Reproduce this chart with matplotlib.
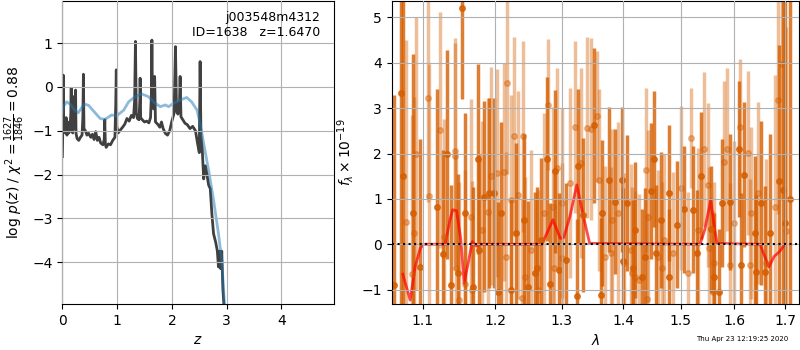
import matplotlib
matplotlib.use('Agg')
import matplotlib.pyplot as plt
from matplotlib import ticker

# p(z) panel
z_grid = [0.0, 0.01, 0.018, 0.026, 0.04, 0.055, 0.07, 0.085, 0.10, 0.12, 0.14, 0.155, 0.162,
          0.17, 0.19, 0.205, 0.212, 0.22, 0.235, 0.242, 0.25, 0.27, 0.30, 0.33, 0.36, 0.375,
          0.385, 0.395, 0.42, 0.45, 0.48, 0.52, 0.55, 0.58, 0.61, 0.64, 0.67, 0.70, 0.74,
          0.765, 0.775, 0.785, 0.80, 0.84, 0.88, 0.92, 0.96, 0.975, 0.985, 0.995, 1.02, 1.06,
          1.10, 1.14, 1.18, 1.22, 1.26, 1.30, 1.32, 1.335, 1.35, 1.37, 1.40, 1.415, 1.42,
          1.43, 1.46, 1.50, 1.54, 1.58, 1.61, 1.625, 1.635, 1.645, 1.655, 1.665, 1.685, 1.70,
          1.74, 1.78, 1.81, 1.84, 1.88, 1.92, 1.96, 2.00, 2.04, 2.065, 2.085, 2.11, 2.14,
          2.15, 2.165, 2.20, 2.24, 2.28, 2.33, 2.38, 2.43, 2.47, 2.50, 2.515, 2.53, 2.555,
          2.58, 2.61, 2.64, 2.67, 2.70, 2.73, 2.76, 2.80, 2.83, 2.85, 2.87, 2.89, 2.91, 2.93,
          2.96, 3.0]
log_pz = [-1.59, -0.9, 0.27, -1.0, -0.85, -1.05, -0.7, -1.1, -0.8, -1.05, -0.95, -0.6, -0.03,
          -1.0, -1.05, -0.6, -0.22, -0.95, -0.6, -0.07, -1.06, -1.18, -1.22, -1.15, -1.1, -0.7,
          0.29, -0.95, -1.0, -1.1, -1.06, -1.15, -1.08, -1.2, -1.02, -1.22, -1.15, -1.28, -1.32,
          -1.2, -0.75, -1.3, -1.38, -1.3, -1.32, -1.22, -1.15, -0.4, 0.39, -0.9, -1.05, -0.98,
          -0.92, -0.85, -0.72, -0.78, -0.65, -0.7, -0.3, 1.04, -0.6, -0.72, -0.75, -0.3, 0.20,
          -0.7, -0.75, -0.8, -0.78, -0.82, -0.7, -0.2, 1.07, -0.3, 0.08, -0.5, 0.24, -0.8,
          -0.85, -0.92, -0.8, -0.95, -1.06, -1.10, -1.0, -0.78, -0.6, 0.92, -0.55, -0.62, -0.3,
          0.24, -0.68, -0.75, -0.83, -0.86, -0.95, -0.9, -1.0, -1.3, -1.5, 0.58, -1.1, -1.45,
          -2.1, -1.8, -2.0, -2.24, -2.32, -2.9, -3.35, -3.55, -3.75, -4.11, -3.75, -4.15, -3.75,
          -4.6, -5.2, -6.4]

z_smooth = [0.0, 0.02, 0.08, 0.15, 0.22, 0.29, 0.35, 0.40, 0.48, 0.57, 0.69, 0.78, 0.90,
            0.99, 1.12, 1.21, 1.33, 1.45, 1.57, 1.69, 1.79, 1.88, 1.94, 2.03, 2.15, 2.27,
            2.36, 2.46, 2.52, 2.59, 2.67, 2.76, 2.85, 2.91, 2.96, 3.0]
log_pz_smooth = [-0.6, -0.45, -0.34, -0.4, -0.52, -0.59, -0.48, -0.39, -0.42, -0.55, -0.72,
                 -0.74, -0.64, -0.66, -0.53, -0.34, -0.22, -0.16, -0.22, -0.37, -0.45, -0.41,
                 -0.45, -0.37, -0.30, -0.24, -0.34, -0.53, -0.87, -1.36, -1.90, -2.58, -3.35,
                 -3.96, -4.95, -5.6]

# spectrum panel, two beams
wave_a = [1.063, 1.0722, 1.075, 1.087, 1.0961, 1.1199, 1.127, 1.1329, 1.1384, 1.1477, 1.1537,
          1.1569, 1.1685, 1.1755, 1.1775, 1.1847, 1.1917, 1.1986, 1.2047, 1.2085, 1.2229,
          1.231, 1.243, 1.2485, 1.2595, 1.2623, 1.2685, 1.2775, 1.2825, 1.2895, 1.296,
          1.3064, 1.3247, 1.3251, 1.3342, 1.3519, 1.3626, 1.3652, 1.3759, 1.3866, 1.3973,
          1.3995, 1.4059, 1.4168, 1.4206, 1.4324, 1.4363, 1.4482, 1.4518, 1.4552, 1.4647,
          1.4786, 1.4794, 1.4941, 1.5061, 1.5215, 1.529, 1.5368, 1.5552, 1.561, 1.5706,
          1.5767, 1.5920, 1.6079, 1.613, 1.6178, 1.6408, 1.642, 1.652, 1.659, 1.6704,
          1.6888, 1.697, 1.70, 1.71]
flux_a = [-0.9, 3.34, 1.5, 0.69, -0.49, 0.83, -0.22, 1.98, -0.90, -0.64, 5.20,
          0.69, -0.94, 1.88, -0.13, 1.05, 1.13, 1.13, -1.06, 0.69, -1.01,
          0.24, 0.54, -0.94, -0.64, -0.53, 0.10, 1.88, -0.88, 1.61, -0.57,
          -0.35, -1.14, 1.72, 0.65, 2.62, -1.12, 0.69, 1.42, 0.94, 1.42,
          -0.36, 0.91, -0.53, 0.32, -0.72, -0.27, 1.17, 1.88, -0.20, 0.54,
          -0.72, 1.14, 0.43, 0.77, 0.76, -0.2, 1.51, 0.33, -0.72, -1.06,
          0.91, 0.94, 2.10, -0.46, 1.53, 0.24, -0.61, 0.91, -0.61, 0.24,
          1.39, 1.2, 0.48, 1.0]
err_a = [4.2, 6.0, 5.0, 3.5, 2.8, 2.6, 2.3, 2.3, 2.2, 2.2, 2.0,
         2.2, 2.2, 2.1, 2.1, 2.1, 2.1, 2.1, 2.0, 2.0, 2.0,
         2.0, 1.9, 1.9, 1.8, 1.8, 1.8, 1.8, 1.8, 1.8, 1.7,
         1.7, 1.7, 1.7, 1.7, 1.7, 1.7, 1.6, 1.6, 1.6, 1.6,
         1.6, 1.5, 1.5, 1.5, 1.5, 1.5, 1.5, 1.5, 1.5, 1.5,
         1.5, 1.5, 1.4, 1.4, 1.4, 1.4, 1.4, 1.4, 1.4, 1.4,
         1.4, 1.5, 1.5, 1.6, 1.6, 1.7, 1.7, 1.8, 1.9, 2.2,
         3.0, 5.0, 5.5, 6.0]

wave_b = [1.078, 1.0861, 1.0883, 1.092, 1.1074, 1.1083, 1.1236, 1.1292, 1.1431, 1.144,
          1.1458, 1.1491, 1.157, 1.1653, 1.1675, 1.181, 1.1894, 1.1949, 1.2035, 1.2135,
          1.2157, 1.2175, 1.2235, 1.2275, 1.2335, 1.2398, 1.241, 1.2445, 1.2535, 1.2635,
          1.2725, 1.2795, 1.286, 1.2883, 1.2935, 1.3006, 1.3011, 1.3134, 1.3214, 1.3305,
          1.3401, 1.3465, 1.3572, 1.3599, 1.369, 1.3797, 1.3813, 1.3904, 1.4012, 1.4123,
          1.4147, 1.419, 1.4265, 1.4382, 1.4407, 1.4424, 1.4588, 1.466, 1.4706, 1.4853,
          1.5012, 1.5123, 1.5184, 1.5307, 1.5417, 1.5503, 1.552, 1.559, 1.5613, 1.5798,
          1.5859, 1.5915, 1.5994, 1.6112, 1.6257, 1.631, 1.6322, 1.6461, 1.6625, 1.6803,
          1.6868, 1.6934, 1.703]
flux_b = [0.5, -0.66, 0.24, 2.0, 3.23, 1.07, 2.51, 0.17, 2.05, 1.94,
          -0.52, -1.23, -0.87, 0.61, -1.01, 0.32, 0.72, 1.50, 1.57, 1.59,
          -0.27, 3.56, 0.98, 2.38, 1.09, -1.18, 2.38, -0.72, -0.13, -1.01,
          0.69, 3.08, 0.83, -0.53, 1.68, -0.31, 0.91, 1.35, 2.58, 1.79,
          2.57, 2.54, 2.82, 1.42, -0.27, -0.19, 0.54, 0.69, -0.42, -0.12,
          -0.64, -0.72, -0.79, 1.64, -1.2, 0.61, -0.27, -0.53, 0.10, -0.20,
          1.24, -0.64, 2.35, 0.32, 2.10, 1.31, -0.09, -1.06, -0.42, 1.81,
          2.09, -0.46, 0.48, 2.58, 2.01, -0.46, 0.69, 1.13, -0.42, 0.83,
          3.17, 3.97, 0.3]
err_b = [4.0, 3.5, 3.0, 3.0, 2.3, 2.9, 2.6, 2.6, 2.5, 2.5,
         2.5, 2.6, 2.5, 2.6, 2.4, 2.4, 2.5, 2.4, 2.3, 2.4,
         2.3, 2.0, 2.3, 2.2, 2.3, 2.2, 2.1, 2.2, 2.2, 2.2,
         2.2, 1.45, 2.2, 2.2, 2.2, 2.1, 2.1, 2.1, 1.9, 2.1,
         2.0, 2.0, 1.45, 2.0, 2.0, 1.9, 2.0, 2.0, 2.0, 1.9,
         1.9, 1.9, 1.9, 1.8, 1.9, 1.9, 1.9, 1.9, 1.9, 1.8,
         1.8, 1.8, 1.1, 1.8, 1.7, 1.8, 1.8, 1.8, 1.8, 1.8,
         1.8, 1.8, 1.8, 1.5, 1.8, 1.9, 1.9, 2.0, 2.3, 2.9,
         2.5, 3.0, 4.5]

wave_model = [1.0743, 1.0838, 1.0904, 1.097, 1.1013, 1.1303, 1.1369, 1.1405, 1.1459, 1.1518,
              1.1563, 1.162, 1.1677, 1.1733, 1.178, 1.2694, 1.2771, 1.2865, 1.298, 1.3033,
              1.313, 1.324, 1.3333, 1.3445, 1.535, 1.544, 1.555, 1.5615, 1.567, 1.65,
              1.6568, 1.6675, 1.678, 1.689, 1.70]
flux_model = [-0.66, -1.23, -0.49, -0.09, 0.0, 0.0, 0.54, 0.76, 0.74, 0.1,
              -0.86, -0.42, 0.06, -0.04, 0.0, 0.0, 0.24, 0.54, 0.13, 0.15,
              0.61, 1.31, 0.69, 0.02, 0.0, 0.32, 0.98, 0.39, 0.02, 0.0,
              -0.2, -0.5, -0.27, -0.16, 0.0]

g141_color = (0.8353, 0.3686, 0.0)

fig = plt.figure(figsize=(8, 3.5), dpi=100)
ax1 = fig.add_axes([0.0779, 0.131, 0.339, 0.867])
ax2 = fig.add_axes([0.4896, 0.131, 0.5095, 0.867])

ax1.plot(z_grid, log_pz, color='k', alpha=0.75, linewidth=2)
ax1.plot(z_smooth, log_pz_smooth, color='tab:blue', alpha=0.5, linewidth=2)
ax1.set_xlim(0, 4.95)
ax1.set_ylim(-4.96, 1.97)
ax1.set_xticks([0, 1, 2, 3, 4])
ax1.set_yticks([-4, -3, -2, -1, 0, 1])
ax1.set_axisbelow(False)
ax1.grid(True)
ax1.set_xlabel(r'$z$')
ax1.set_ylabel(r'log $p(z)$ / $\chi^2=\frac{1627}{1846}=0.88$')
ax1.text(0.95, 0.965, 'j003548m4312\nID=1638   z=1.6470', ha='right', va='top',
         transform=ax1.transAxes, fontsize=9)

ax2.errorbar(wave_a, flux_a, yerr=err_a, color=g141_color, alpha=0.8, marker='o',
             markersize=4, linestyle='none', elinewidth=2.5)
ax2.errorbar(wave_b, flux_b, yerr=err_b, color=g141_color, alpha=0.4, marker='o',
             markersize=4, linestyle='none', elinewidth=2.5)
ax2.plot(wave_model, flux_model, color='r', alpha=0.7, linewidth=2)
ax2.axhline(0, color='k', linestyle=':', linewidth=1.5, zorder=10)

ax2.set_xscale('log')
ax2.xaxis.set_major_locator(ticker.FixedLocator([1.1, 1.2, 1.3, 1.4, 1.5, 1.6, 1.7]))
ax2.xaxis.set_major_formatter(ticker.FormatStrFormatter('%.1f'))
ax2.xaxis.set_minor_locator(ticker.NullLocator())
ax2.set_xlim(1.06, 1.7295)
ax2.set_ylim(-1.32, 5.37)
ax2.set_yticks([-1, 0, 1, 2, 3, 4, 5])
ax2.set_axisbelow(False)
ax2.grid(True)
ax2.set_xlabel(r'$\lambda$')
ax2.set_ylabel(r'$f_\lambda\times10^{-19}$')

fig.text(0.986, 0.022, 'Thu Apr 23 12:19:25 2020', ha='right', va='bottom', fontsize=5)

fig.savefig('out.png', dpi=100)
